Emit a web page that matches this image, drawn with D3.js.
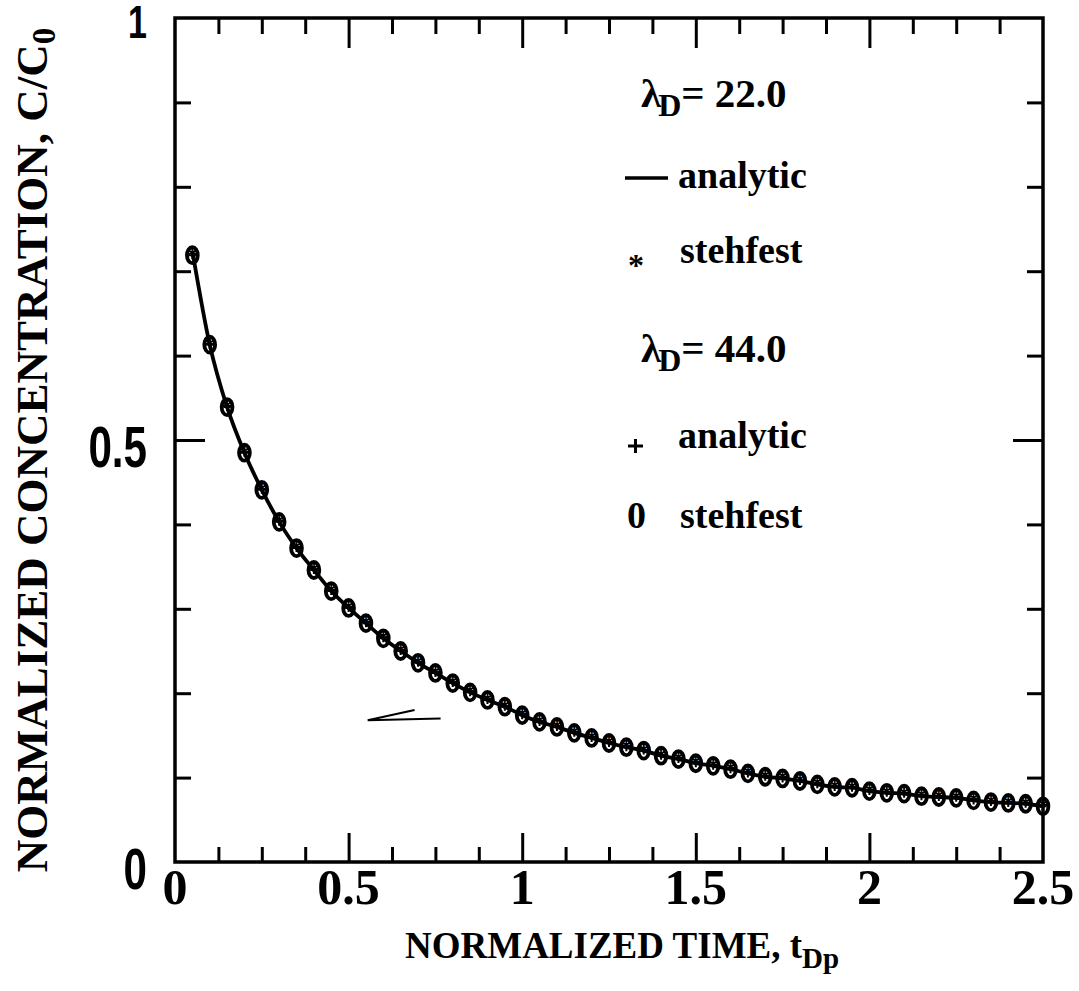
<!DOCTYPE html>
<html><head><meta charset="utf-8">
<script src="https://cdn.jsdelivr.net/npm/d3@7"></script>
<style>body{margin:0;background:#fff;} svg{display:block}</style>
</head><body><svg id="c" width="1079" height="991"></svg>
<script>
// ---- data ----
const tValues = [0.05,0.10,0.15,0.20,0.25,0.30,0.35,0.40,0.45,0.50,
  0.55,0.60,0.65,0.70,0.75,0.80,0.85,0.90,0.95,1.00,
  1.05,1.10,1.15,1.20,1.25,1.30,1.35,1.40,1.45,1.50,
  1.55,1.60,1.65,1.70,1.75,1.80,1.85,1.90,1.95,2.00,
  2.05,2.10,2.15,2.20,2.25,2.30,2.35,2.40,2.45,2.50];
// lambda_D = 22.0, analytic (solid line)
const analytic22 = [0.724,0.613,0.539,0.485,0.441,0.403,0.372,0.346,0.321,0.301,
  0.283,0.265,0.250,0.236,0.224,0.212,0.201,0.192,0.184,0.174,
  0.166,0.160,0.153,0.147,0.141,0.136,0.132,0.126,0.122,0.117,
  0.114,0.110,0.105,0.101,0.099,0.096,0.092,0.089,0.088,0.084,
  0.082,0.081,0.078,0.077,0.076,0.073,0.071,0.070,0.069,0.066];
// lambda_D = 22.0, stehfest (*)
const stehfest22 = [0.719,0.613,0.539,0.485,0.441,0.403,0.372,0.346,0.321,0.301,
  0.283,0.265,0.250,0.236,0.224,0.212,0.201,0.192,0.184,0.174,
  0.166,0.160,0.153,0.147,0.141,0.136,0.132,0.126,0.122,0.117,
  0.114,0.110,0.105,0.101,0.099,0.096,0.092,0.089,0.088,0.084,
  0.082,0.081,0.078,0.077,0.076,0.073,0.071,0.070,0.069,0.066];
// lambda_D = 44.0, analytic (+)
const analytic44 = [0.719,0.613,0.539,0.485,0.441,0.403,0.372,0.346,0.321,0.301,
  0.283,0.265,0.250,0.236,0.224,0.212,0.201,0.192,0.184,0.174,
  0.166,0.160,0.153,0.147,0.141,0.136,0.132,0.126,0.122,0.117,
  0.114,0.110,0.105,0.101,0.099,0.096,0.092,0.089,0.088,0.084,
  0.082,0.081,0.078,0.077,0.076,0.073,0.071,0.070,0.069,0.066];
// lambda_D = 44.0, stehfest (0)
const stehfest44 = [0.719,0.613,0.539,0.485,0.441,0.403,0.372,0.346,0.321,0.301,
  0.283,0.265,0.250,0.236,0.224,0.212,0.201,0.192,0.184,0.174,
  0.166,0.160,0.153,0.147,0.141,0.136,0.132,0.126,0.122,0.117,
  0.114,0.110,0.105,0.101,0.099,0.096,0.092,0.089,0.088,0.084,
  0.082,0.081,0.078,0.077,0.076,0.073,0.071,0.070,0.069,0.066];

const xTickValues = [0, 0.5, 1, 1.5, 2, 2.5];
const xTickLabels = ["0", "0.5", "1", "1.5", "2", "2.5"];
const xMinorTicks = [0.125,0.25,0.375,0.625,0.75,0.875,1.125,1.25,1.375,1.625,1.75,1.875,2.125,2.25,2.375];
const xMajorTicks = [0.5, 1, 1.5, 2];
const yTickValues = [0, 0.5, 1];
const yTickLabels = ["0", "0.5", "1"];
const yMinorTicks = [0.1,0.2,0.3,0.4,0.6,0.7,0.8,0.9];
const yMajorTicks = [0.5];
const arrowMark = [[0.765,0.170],[0.555,0.168],[0.69,0.180]];

// ---- drawing ----
const svg = d3.select("#c");
const L = 175, R = 1043, T = 18, B = 862;
const x = d3.scaleLinear().domain([0, 2.5]).range([L, R]);
const y = d3.scaleLinear().domain([0, 1]).range([B, T]);
const serif = "'Liberation Serif','Times New Roman',serif";
const sans = "'Liberation Sans',Arial,sans-serif";

function ticks(axis, transform, vals, size) {
  const g = svg.append("g").attr("transform", transform)
    .call(axis.tickValues(vals).tickSize(-size).tickFormat(""));
  g.select(".domain").remove();
  g.selectAll(".tick line").attr("stroke", "#000").attr("stroke-width", 3);
}
ticks(d3.axisBottom(x), `translate(0,${B})`, xMinorTicks, 15);
ticks(d3.axisBottom(x), `translate(0,${B})`, xMajorTicks, 29);
ticks(d3.axisTop(x), `translate(0,${T})`, xMinorTicks, 16);
ticks(d3.axisTop(x), `translate(0,${T})`, xMajorTicks, 30);
ticks(d3.axisLeft(y), `translate(${L},0)`, yMinorTicks, 16);
ticks(d3.axisLeft(y), `translate(${L},0)`, yMajorTicks, 30);
ticks(d3.axisRight(y), `translate(${R},0)`, yMinorTicks, 16);
ticks(d3.axisRight(y), `translate(${R},0)`, yMajorTicks, 30);

svg.append("rect").attr("x", L).attr("y", T).attr("width", R - L).attr("height", B - T)
  .attr("fill", "none").attr("stroke", "#000").attr("stroke-width", 3.5);

// tick labels
svg.append("g").selectAll("text").data(xTickValues).join("text")
  .attr("x", d => x(d)).attr("y", 904)
  .attr("text-anchor", "middle").attr("font-family", serif).attr("font-weight", "bold")
  .attr("font-size", 50).text((d, i) => xTickLabels[i]);
svg.append("g").selectAll("text").data(yTickValues).join("text")
  .attr("transform", d => `translate(147,${y(d) + (d === 1 ? 20 : 27)}) scale(0.74,1)`)
  .attr("text-anchor", "end").attr("font-family", sans).attr("font-weight", "bold")
  .attr("font-size", d => d === 1 ? 46 : 57).text((d, i) => yTickLabels[i]);

// axis titles
const xt = svg.append("text").attr("x", 405).attr("y", 958)
  .attr("font-family", serif).attr("font-weight", "bold").attr("font-size", 37);
xt.append("tspan").text("NORMALIZED TIME, t");
xt.append("tspan").attr("dy", 10).attr("font-size", 29).text("Dp");

const yt = svg.append("text").attr("transform", `translate(47,450) rotate(-90)`)
  .attr("text-anchor", "middle")
  .attr("font-family", serif).attr("font-weight", "bold").attr("font-size", 45);
yt.append("tspan").text("NORMALIZED CONCENTRATION, C/C");
yt.append("tspan").attr("dy", 8).attr("font-size", 33).text("0");

// curve and markers
const pts = tValues.map((t, i) => ({t, a22: analytic22[i], s22: stehfest22[i], a44: analytic44[i], s44: stehfest44[i]}));
svg.append("path").datum(pts)
  .attr("d", d3.line().x(d => x(d.t)).y(d => y(d.a22)).curve(d3.curveMonotoneX))
  .attr("fill", "none").attr("stroke", "#000").attr("stroke-width", 3.8);

svg.append("g").selectAll("ellipse").data(pts).join("ellipse")
  .attr("cx", d => x(d.t)).attr("cy", d => y(d.s44))
  .attr("rx", 5.4).attr("ry", 8)
  .attr("fill", "none").attr("stroke", "#000").attr("stroke-width", 3.8);
svg.append("g").selectAll("path").data(pts).join("path")
  .attr("transform", d => `translate(${x(d.t)},${y(d.a44)})`)
  .attr("d", "M-3.5,0H3.5M0,-4V4")
  .attr("stroke", "#000").attr("stroke-width", 2);
svg.append("g").selectAll("text").data(pts).join("text")
  .attr("x", d => x(d.t)).attr("y", d => y(d.s22) + 8)
  .attr("text-anchor", "middle").attr("font-family", serif).attr("font-weight", "bold")
  .attr("font-size", 24).text("*");

// stray pen mark on the original
svg.append("path").datum(arrowMark)
  .attr("d", d3.line().x(d => x(d[0])).y(d => y(d[1])))
  .attr("fill", "none").attr("stroke", "#000").attr("stroke-width", 2);

// legend
const lg = svg.append("g").attr("font-family", serif).attr("font-weight", "bold").attr("font-size", 38);
function lambda(yb, val) {
  const t = lg.append("text").attr("x", 641).attr("y", yb).attr("font-size", 41);
  t.append("tspan").text("λ");
  t.append("tspan").attr("dx", -3).attr("dy", 9).attr("font-size", 32).text("D");
  t.append("tspan").attr("dy", -9).text("= " + val);
}
lambda(107, "22.0");
lg.append("line").attr("x1", 625).attr("x2", 668).attr("y1", 178).attr("y2", 178)
  .attr("stroke", "#000").attr("stroke-width", 3.5);
lg.append("text").attr("x", 678).attr("y", 188).text("analytic");
lg.append("text").attr("x", 636).attr("y", 276).attr("text-anchor", "middle").attr("font-size", 32).text("*");
lg.append("text").attr("x", 680).attr("y", 263).text("stehfest");
lambda(362, "44.0");
lg.append("path").attr("d", "M628,446H643M635.5,439V453").attr("fill", "none")
  .attr("stroke", "#000").attr("stroke-width", 3);
lg.append("text").attr("x", 678).attr("y", 448).text("analytic");
lg.append("text").attr("x", 627).attr("y", 528).text("0");
lg.append("text").attr("x", 680).attr("y", 528).text("stehfest");
</script></body></html>
